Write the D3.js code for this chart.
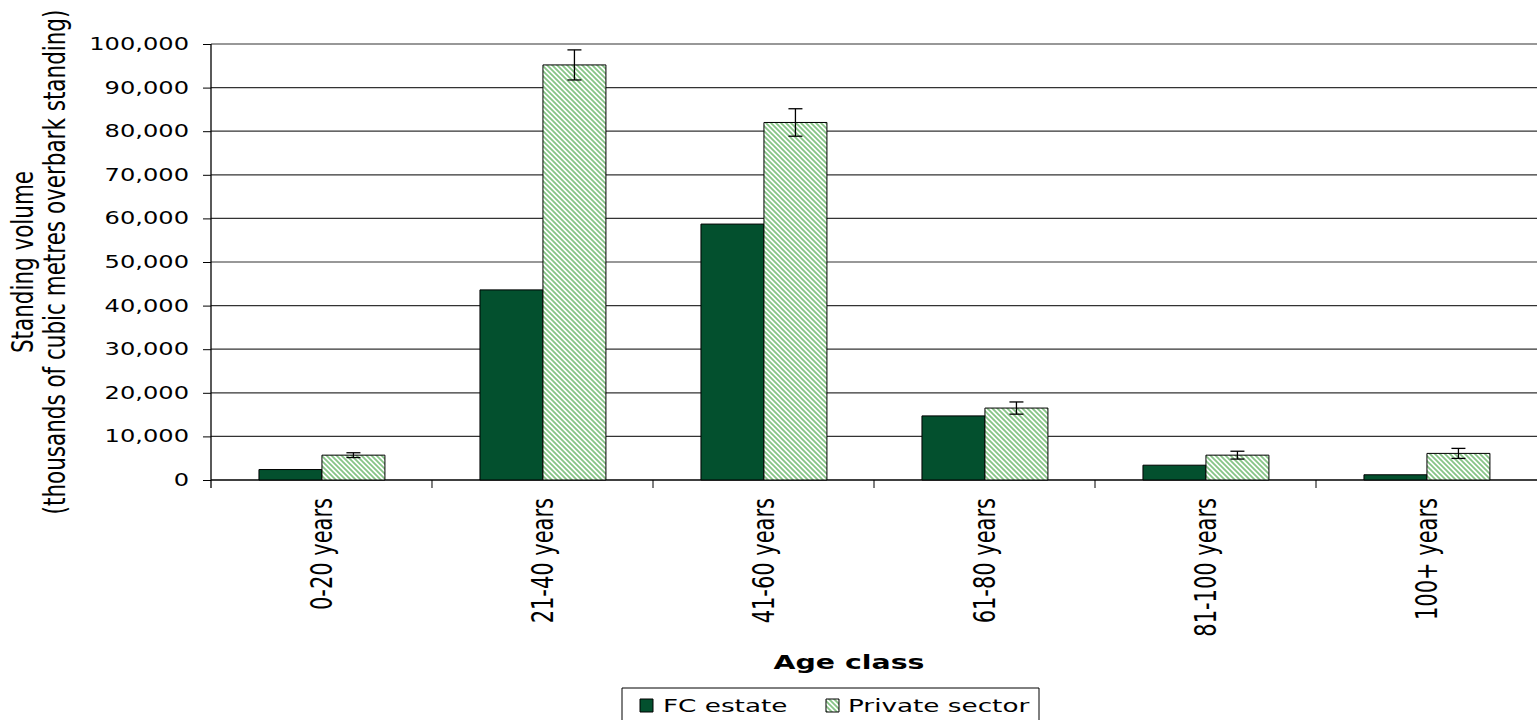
<!DOCTYPE html>
<html>
<head>
<meta charset="utf-8">
<script src="https://cdn.jsdelivr.net/npm/d3@7"></script>
<style>
  html, body { margin: 0; padding: 0; background: #fff; }
  svg { display: block; }
  text { font-family: "DejaVu Sans", Verdana, sans-serif; fill: #000; }
</style>
</head>
<body>
<svg id="chart"></svg>
<script>
// Standing volume by age class, FC estate vs private sector
const categories = ["0-20 years", "21-40 years", "41-60 years", "61-80 years", "81-100 years", "100+ years"];
const seriesNames = ["FC estate", "Private sector"];
const fcEstate = [2400, 43600, 58700, 14700, 3400, 1200];
const privateSector = [5700, 95200, 82000, 16500, 5700, 6100];
const privateError = [550, 3450, 3150, 1400, 900, 1150];
const yTicks = [0, 10000, 20000, 30000, 40000, 50000, 60000, 70000, 80000, 90000, 100000];

const WIDTH = 1537, HEIGHT = 720;
// The drawing is laid out in a horizontally compressed space and stretched to full width.
const S = 1.42;
const VW = WIDTH / S;
const sx = v => v / S;

const svg = d3.select("#chart")
  .attr("width", WIDTH).attr("height", HEIGHT)
  .attr("viewBox", `0 0 ${VW} ${HEIGHT}`)
  .attr("preserveAspectRatio", "none");

const plot = { left: sx(211), right: sx(1537), top: 44, bottom: 480 };

const defs = svg.append("defs");
const P = 5;
const pat = defs.append("pattern")
  .attr("id", "hatch")
  .attr("patternUnits", "userSpaceOnUse")
  .attr("width", P).attr("height", P)
  .attr("patternTransform", `scale(${1 / S},1)`);
pat.append("rect").attr("width", P).attr("height", P).attr("fill", "#fff");
pat.append("path")
  .attr("d", `M-1,-1 L${P + 1},${P + 1} M-1,${P - 1} L1,${P + 1} M${P - 1},-1 L${P + 1},1`)
  .attr("stroke", "#86c486").attr("stroke-width", 1.8);

const x = d3.scaleBand().domain(categories).range([plot.left, plot.right]).padding(0);
const bw = x.bandwidth();
const xs = d3.scaleBand().domain(seriesNames).range([bw * 0.217, bw * 0.787]).padding(0);
const y = d3.scaleLinear().domain([0, 100000]).range([plot.bottom, plot.top]);

// gridlines
svg.append("g").selectAll("line").data(yTicks.filter(d => d > 0)).join("line")
  .attr("x1", plot.left).attr("x2", plot.right)
  .attr("y1", d => y(d)).attr("y2", d => y(d))
  .attr("stroke", "#333").attr("stroke-width", 1.2)
  .attr("vector-effect", "non-scaling-stroke");

// y axis
const yAxis = d3.axisLeft(y).tickValues(yTicks).tickSize(sx(8)).tickPadding(sx(14))
  .tickFormat(d3.format(","));
const gy = svg.append("g").attr("transform", `translate(${plot.left},0)`).call(yAxis);
gy.select(".domain").remove();
gy.selectAll(".tick line").attr("stroke", "#000").attr("vector-effect", "non-scaling-stroke");
gy.selectAll(".tick text").attr("font-size", 17).attr("font-family", '"DejaVu Sans", Verdana, sans-serif').attr("fill", "#000");
svg.append("line")
  .attr("x1", plot.left).attr("x2", plot.left)
  .attr("y1", plot.top).attr("y2", plot.bottom + 8)
  .attr("stroke", "#000").attr("stroke-width", 1.3)
  .attr("vector-effect", "non-scaling-stroke");

// x axis baseline and category boundary ticks
svg.append("line")
  .attr("x1", plot.left).attr("x2", plot.right)
  .attr("y1", plot.bottom).attr("y2", plot.bottom)
  .attr("stroke", "#000").attr("stroke-width", 1.3)
  .attr("vector-effect", "non-scaling-stroke");
svg.append("g").selectAll("line").data(categories.slice(1)).join("line")
  .attr("x1", d => x(d)).attr("x2", d => x(d))
  .attr("y1", plot.bottom).attr("y2", plot.bottom + 8)
  .attr("stroke", "#000").attr("vector-effect", "non-scaling-stroke");

// bars
const rows = categories.map((c, i) => ({ c, fc: fcEstate[i], pr: privateSector[i], err: privateError[i] }));
const groups = svg.append("g").selectAll("g").data(rows).join("g")
  .attr("transform", d => `translate(${x(d.c)},0)`);

groups.append("rect")
  .attr("x", xs("FC estate")).attr("width", xs.bandwidth())
  .attr("y", d => y(d.fc)).attr("height", d => y(0) - y(d.fc))
  .attr("fill", "#03502e").attr("stroke", "#000").attr("stroke-width", 1)
  .attr("vector-effect", "non-scaling-stroke");

groups.append("rect")
  .attr("x", xs("Private sector")).attr("width", xs.bandwidth())
  .attr("y", d => y(d.pr)).attr("height", d => y(0) - y(d.pr))
  .attr("fill", "url(#hatch)").attr("stroke", "#000").attr("stroke-width", 1)
  .attr("vector-effect", "non-scaling-stroke");

// error bars on private sector
const cx = xs("Private sector") + xs.bandwidth() / 2;
const cap = sx(7);
const eb = groups.append("g").attr("stroke", "#000").attr("stroke-width", 1.3);
eb.append("line").attr("x1", cx).attr("x2", cx)
  .attr("y1", d => y(d.pr + d.err)).attr("y2", d => y(d.pr - d.err))
  .attr("vector-effect", "non-scaling-stroke");
eb.append("line").attr("x1", cx - cap).attr("x2", cx + cap)
  .attr("y1", d => y(d.pr + d.err)).attr("y2", d => y(d.pr + d.err))
  .attr("vector-effect", "non-scaling-stroke");
eb.append("line").attr("x1", cx - cap).attr("x2", cx + cap)
  .attr("y1", d => y(d.pr - d.err)).attr("y2", d => y(d.pr - d.err))
  .attr("vector-effect", "non-scaling-stroke");

// category labels
svg.append("g").selectAll("text").data(categories).join("text")
  .attr("transform", d => `translate(${x(d) + bw / 2},${plot.bottom + 18}) rotate(-90)`)
  .attr("text-anchor", "end").attr("dy", "0.36em")
  .attr("font-size", 21)
  .text(d => d);

// y axis title
const yt = svg.append("text")
  .attr("transform", `translate(0,${(plot.top + plot.bottom) / 2}) rotate(-90)`)
  .attr("text-anchor", "middle").attr("font-size", 21.5);
yt.append("tspan").attr("x", 0).attr("y", sx(39) - 4).text("Standing volume");
yt.append("tspan").attr("x", 0).attr("y", sx(71) - 4).text("(thousands of cubic metres overbark standing)");

// x axis title
svg.append("text")
  .attr("x", sx(849)).attr("y", 669)
  .attr("text-anchor", "middle").attr("font-size", 20).attr("font-weight", "bold")
  .attr("fill", "#1b4f2c")
  .text("Age class");

// legend
const lg = svg.append("g");
lg.append("rect")
  .attr("x", sx(622)).attr("y", 688).attr("width", sx(1039) - sx(622)).attr("height", 40)
  .attr("fill", "#fff").attr("stroke", "#000").attr("stroke-width", 1)
  .attr("vector-effect", "non-scaling-stroke");
const legendItems = [
  { name: seriesNames[0], fill: "#03502e", sw: 640, tx: 663 },
  { name: seriesNames[1], fill: "url(#hatch)", sw: 826, tx: 848 }
];
legendItems.forEach(it => {
  lg.append("rect").attr("x", sx(it.sw)).attr("y", 699).attr("width", sx(13)).attr("height", 13)
    .attr("fill", it.fill).attr("stroke", "#000").attr("stroke-width", 1)
    .attr("vector-effect", "non-scaling-stroke");
  lg.append("text").attr("x", sx(it.tx)).attr("y", 712).attr("font-size", 18.5).text(it.name);
});
</script>
</body>
</html>
